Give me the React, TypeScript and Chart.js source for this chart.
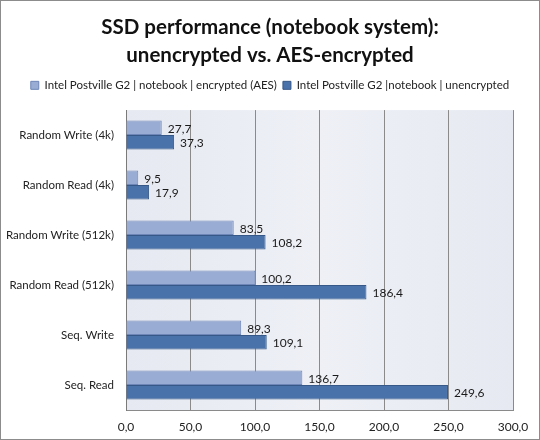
import React, { useEffect, useRef } from "react";
import { Chart, registerables } from "chart.js";

Chart.register(...registerables);

const categories = [
  "Random Write (4k)",
  "Random Read (4k)",
  "Random Write (512k)",
  "Random Read (512k)",
  "Seq. Write",
  "Seq. Read",
];
const encrypted = [27.7, 9.5, 83.5, 100.2, 89.3, 136.7];
const unencrypted = [37.3, 17.9, 108.2, 186.4, 109.1, 249.6];
const seriesNames = [
  "Intel Postville G2 | notebook | encrypted (AES)",
  "Intel Postville G2 |notebook | unencrypted",
];
const titleLines = ["SSD performance (notebook system):", "unencrypted vs. AES-encrypted"];

const FONT = "Lato, 'Open Sans', sans-serif";
const fmt = (v: number) => v.toFixed(1).replace(".", ",");

const plotBg = {
  id: "plotBg",
  beforeDraw(chart: any) {
    const { ctx, chartArea: a } = chart;
    if (!a) return;
    ctx.save();
    const g = ctx.createLinearGradient(a.left, 0, a.right, 0);
    g.addColorStop(0, "#e6e9f1");
    g.addColorStop(0.5, "#eef0f6");
    g.addColorStop(1, "#e6e9f1");
    ctx.fillStyle = g;
    ctx.fillRect(a.left, a.top, a.right - a.left, a.bottom - a.top);
    ctx.restore();
  },
};

const valueLabels = {
  id: "valueLabels",
  afterDatasetsDraw(chart: any) {
    const { ctx } = chart;
    ctx.save();
    ctx.font = `12px ${FONT}`;
    ctx.fillStyle = "#1a1a1a";
    ctx.textAlign = "left";
    ctx.textBaseline = "middle";
    chart.data.datasets.forEach((ds: any, i: number) => {
      const meta = chart.getDatasetMeta(i);
      meta.data.forEach((el: any, j: number) => {
        ctx.fillText(fmt(ds.data[j]), el.x + 6, el.y + 1);
      });
    });
    ctx.restore();
  },
};

const headerLayout = {
  id: "headerLayout",
  beforeInit(chart: any) {
    const lg = chart.legend;
    if (!lg) return;
    const orig = lg.fit;
    lg.fit = function () {
      orig.call(this);
      this.height += 9;
    };
  },
  afterLayout(chart: any) {
    const w = chart.width;
    [chart.titleBlock, chart.legend].forEach((b: any) => {
      if (!b) return;
      b.left = 0;
      b.right = w;
      b.width = w;
    });
  },
};

export default function App() {
  const ref = useRef<HTMLCanvasElement | null>(null);

  useEffect(() => {
    document.body.style.margin = "0";
    if (!ref.current) return;
    const chart = new Chart(ref.current, {
      type: "bar",
      data: {
        labels: categories,
        datasets: [
          {
            label: seriesNames[0],
            data: encrypted,
            backgroundColor: "#98acd4",
            borderColor: "#6f86b8",
            borderWidth: 1,
            barPercentage: 1,
            categoryPercentage: 0.58,
          },
          {
            label: seriesNames[1],
            data: unencrypted,
            backgroundColor: "#4a72aa",
            borderColor: "#355888",
            borderWidth: 1,
            barPercentage: 1,
            categoryPercentage: 0.58,
          },
        ],
      },
      options: {
        indexAxis: "y",
        animation: false,
        responsive: false,
        maintainAspectRatio: false,
        layout: { padding: { left: 0, right: 26, top: 0, bottom: 0 } },
        plugins: {
          title: {
            display: true,
            text: titleLines,
            color: "#111",
            font: { family: FONT, size: 20.5, weight: "bold", lineHeight: 1.38 },
            padding: { top: 12, bottom: 4 },
          },
          legend: {
            display: true,
            position: "top",
            labels: {
              color: "#222",
              font: { family: FONT, size: 11.5 },
              boxWidth: 8,
              boxHeight: 8,
              padding: 6,
            },
          },
          tooltip: { enabled: false },
        },
        scales: {
          x: {
            min: 0,
            max: 300,
            ticks: {
              stepSize: 50,
              color: "#222",
              font: { family: FONT, size: 12 },
              padding: 10,
              callback: (v: any) => fmt(Number(v)),
            },
            grid: { color: "#8a8a8a", drawTicks: false },
            border: { display: true, color: "#8a8a8a" },
            afterFit: (s: any) => {
              s.height = 29;
            },
          },
          y: {
            ticks: {
              color: "#222",
              font: { family: FONT, size: 11.5 },
              padding: 12,
            },
            grid: { display: false, drawTicks: false },
            border: { display: true, color: "#7a7a7a" },
            afterFit: (s: any) => {
              s.width = 125;
            },
          },
        },
      },
      plugins: [plotBg, valueLabels, headerLayout],
    });
    return () => chart.destroy();
  }, []);

  return (
    <div
      style={{
        position: "fixed",
        left: 0,
        top: 0,
        width: 540,
        height: 440,
        boxSizing: "border-box",
        border: "1px solid #8c8c8c",
        background: "#fff",
      }}
    >
      <canvas ref={ref} width={538} height={438} style={{ display: "block", width: 538, height: 438 }} />
    </div>
  );
}
